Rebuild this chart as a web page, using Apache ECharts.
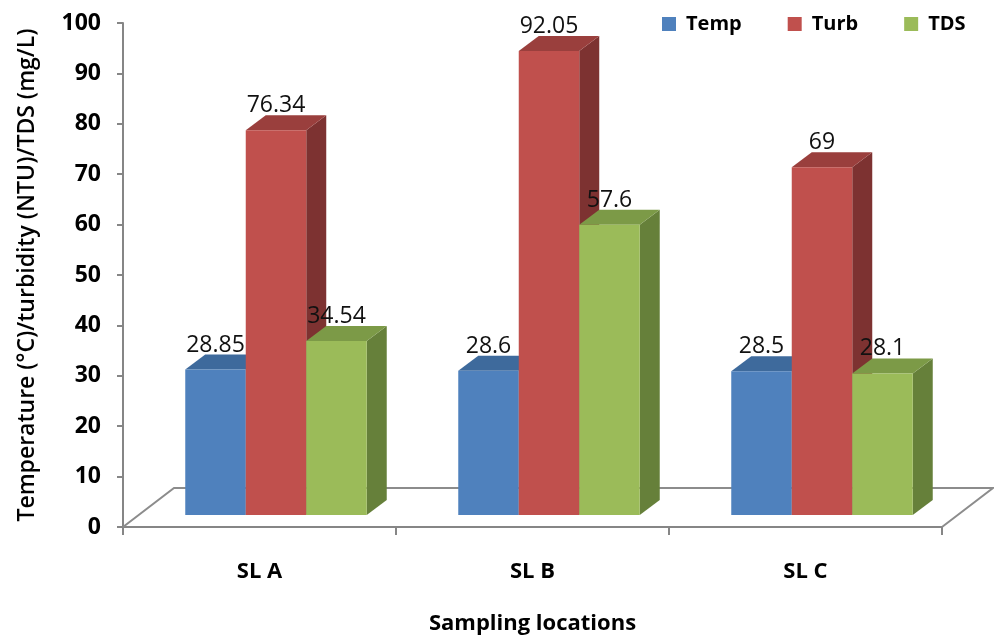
<!DOCTYPE html>
<html>
<head>
<meta charset="utf-8">
<script src="https://cdn.jsdelivr.net/npm/echarts@6/dist/echarts.min.js"></script>
<style>
  html, body { margin: 0; padding: 0; background: #ffffff; }
  #chart { width: 994px; height: 640px; }
</style>
</head>
<body>
<div id="chart"></div>
<script>
// Sampling locations and measured parameters
const categories = ['SL A', 'SL B', 'SL C'];
const seriesNames = ['Temp', 'Turb', 'TDS'];
const tempValues = [28.85, 28.6, 28.5];
const turbValues = [76.34, 92.05, 69];
const tdsValues = [34.54, 57.6, 28.1];
const yMin = 0, yMax = 100, yStep = 10;

// Face colours of the pseudo-3D columns: front, top, side
const palette = [
  { front: '#4F81BD', top: '#3E6A9C', side: '#345887' },
  { front: '#C0504D', top: '#9A3F3D', side: '#7D3231' },
  { front: '#9BBB59', top: '#7C9A47', side: '#66803A' }
];

// Perspective offsets (pixels)
const FRONT_DX = 16.5, FRONT_DY = -12;   // bar front face relative to the floor's front edge
const DEPTH_DX = 20, DEPTH_DY = -15;     // bar depth
const FLOOR_DX = 51, FLOOR_DY = -39;     // floor depth
const BAR_RATIO = 0.2216;                // bar width as a share of the category band

const FONT = '"Open Sans", "Noto Sans", sans-serif';

function barRenderer(idx) {
  const c = palette[idx];
  return function (params, api) {
    const cat = api.value(0);
    const val = api.value(1);
    const base = api.coord([cat, 0]);
    const top = api.coord([cat, val]);
    const band = api.size([1, 0])[0];
    const w = band * BAR_RATIO;
    const x0 = base[0] + FRONT_DX + (idx - 1.5) * w;
    const x1 = x0 + w;
    const yb = base[1] + FRONT_DY;
    const yt = top[1] + FRONT_DY;
    return {
      type: 'group',
      children: [
        {
          type: 'polygon', z2: idx + 1,
          shape: { points: [[x1, yb], [x1 + DEPTH_DX, yb + DEPTH_DY], [x1 + DEPTH_DX, yt + DEPTH_DY], [x1, yt]] },
          style: { fill: c.side }
        },
        {
          type: 'polygon', z2: idx + 1,
          shape: { points: [[x0, yt], [x1, yt], [x1 + DEPTH_DX, yt + DEPTH_DY], [x0 + DEPTH_DX, yt + DEPTH_DY]] },
          style: { fill: c.top }
        },
        {
          type: 'rect', z2: idx + 1,
          shape: { x: x0, y: yt, width: w, height: yb - yt },
          style: { fill: c.front }
        },
        {
          type: 'text', z2: 20,
          style: {
            x: x0 + w / 2, y: yt + DEPTH_DY + 2,
            text: String(val),
            align: 'center', verticalAlign: 'bottom',
            fill: '#111111',
            font: '23px ' + FONT
          }
        }
      ]
    };
  };
}

function floorRenderer(params, api) {
  const cs = params.coordSys;
  const xl = cs.x, xr = cs.x + cs.width, yf = cs.y + cs.height;
  return {
    type: 'polyline', z2: 0,
    shape: { points: [[xl, yf], [xl + FLOOR_DX, yf + FLOOR_DY], [xr + FLOOR_DX, yf + FLOOR_DY], [xr, yf]] },
    style: { stroke: '#8C8C8C', lineWidth: 2, fill: null }
  };
}

const valueSets = [tempValues, turbValues, tdsValues];

const series = [{
  type: 'custom',
  name: 'floor',
  silent: true,
  z: 1,
  renderItem: floorRenderer,
  data: [[0, 0]]
}];

valueSets.forEach(function (vals, idx) {
  series.push({
    type: 'custom',
    name: seriesNames[idx],
    z: 2,
    itemStyle: { color: palette[idx].front },
    renderItem: barRenderer(idx),
    data: vals.map(function (v, i) { return [i, v]; })
  });
});

const chart = echarts.init(document.getElementById('chart'), null, { renderer: 'canvas' });
chart.setOption({
  animation: false,
  backgroundColor: '#ffffff',
  grid: { left: 123, right: 52, top: 23, bottom: 113 },
  legend: {
    data: seriesNames,
    left: 662, top: 14,
    icon: 'rect',
    itemWidth: 14, itemHeight: 14,
    itemGap: 46,
    padding: 0,
    textStyle: { fontFamily: FONT, fontWeight: 'bold', fontSize: 20, color: '#000', padding: [0, 0, 0, 5] }
  },
  xAxis: {
    type: 'category',
    data: categories,
    name: 'Sampling locations',
    nameLocation: 'middle',
    nameGap: 86,
    nameTextStyle: { fontFamily: FONT, fontWeight: 'bold', fontSize: 22, color: '#000' },
    axisLine: { lineStyle: { color: '#868686', width: 2 } },
    axisTick: { show: true, length: 8, lineStyle: { color: '#868686', width: 2 } },
    axisLabel: { margin: 34, fontFamily: FONT, fontWeight: 'bold', fontSize: 22, color: '#000' },
    splitLine: { show: false }
  },
  yAxis: {
    type: 'value',
    min: yMin, max: yMax, interval: yStep,
    name: 'Temperature (°C)/turbidity (NTU)/TDS (mg/L)',
    nameLocation: 'middle',
    nameGap: 84,
    nameTextStyle: { fontFamily: FONT, fontWeight: 600, fontSize: 23, color: '#000' },
    axisLine: { show: true, lineStyle: { color: '#868686', width: 2 } },
    axisTick: { show: true, length: 6, lineStyle: { color: '#868686', width: 2 } },
    axisLabel: { margin: 22, fontFamily: FONT, fontWeight: 'bold', fontSize: 23, color: '#000' },
    splitLine: { show: false }
  },
  series: series
});
</script>
</body>
</html>
